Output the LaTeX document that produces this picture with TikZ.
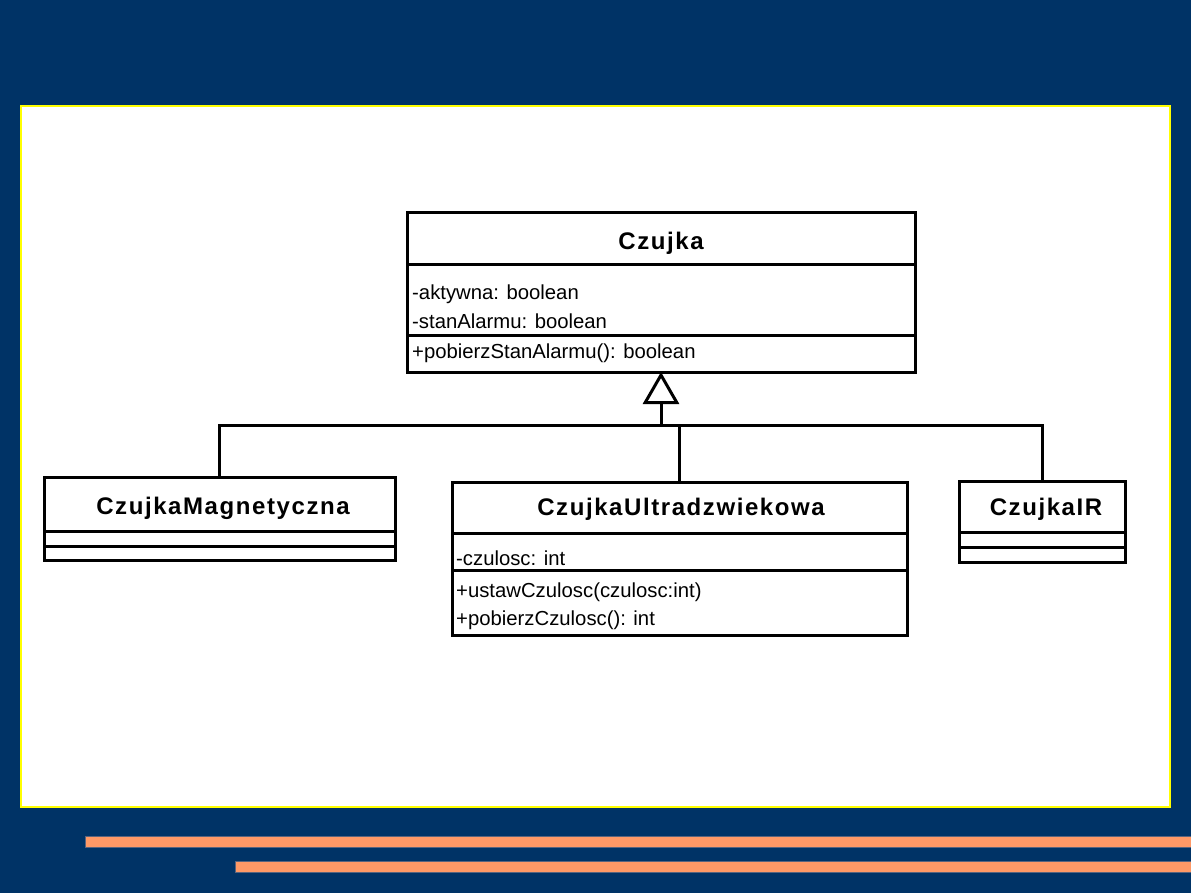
\documentclass[tikz,border=0pt]{standalone}
\usepackage{fontspec}
\setmainfont{Liberation Sans}
\newfontfamily\namefont[LetterSpace=6.6]{Liberation Sans}
\usetikzlibrary{arrows.meta}
\definecolor{navy}{RGB}{0,51,102}
\definecolor{stripe}{RGB}{255,153,102}
\definecolor{stripeedge}{RGB}{90,100,125}
\definecolor{panelyellow}{RGB}{255,255,0}
\tikzset{
  classbox/.style={draw=black, line width=3pt, fill=white, rectangle, inner sep=0pt, outer sep=0pt},
  divider/.style={draw=black, line width=3pt},
  conn/.style={draw=black, line width=3pt},
  cname/.style={anchor=base, inner sep=0pt, font=\namefont\bfseries\fontsize{24pt}{28pt}\selectfont},
  member/.style={anchor=base west, inner sep=0pt, font=\fontsize{20.3pt}{24pt}\selectfont},
  stripebar/.style={fill=stripe, draw=stripeedge, line width=0.8pt}
}
\begin{document}
\begin{tikzpicture}[x=1pt, y=-1pt]
\useasboundingbox (0,0) rectangle (1191,893);
% background
\fill[navy] (0,0) rectangle (1191,893);
\fill[white, draw=panelyellow, line width=1.6pt] (21,106) rectangle (1170,807);
\draw[stripebar] (85,836) rectangle (1195,847);
\draw[stripebar] (235,861) rectangle (1195,872);

% classes
\node[classbox, minimum width=508pt, minimum height=159pt] (czujka) at (661,292.5) {};
\draw[divider] (czujka.west |- 0,265) -- (czujka.east |- 0,265);
\draw[divider] (czujka.west |- 0,335) -- (czujka.east |- 0,335);
\node[cname] (czujkaN) at (661,250) {Czujka};
\node[member] (czA1) at (412,300) {-aktywna: boolean};
\node[member] (czA2) at (412,328) {-stanAlarmu: boolean};
\node[member] (czM1) at (412,358) {+pobierzStanAlarmu(): boolean};

\node[classbox, minimum width=351pt, minimum height=83pt] (magn) at (219.5,518.5) {};
\draw[divider] (magn.west |- 0,531) -- (magn.east |- 0,531);
\draw[divider] (magn.west |- 0,546) -- (magn.east |- 0,546);
\node[cname] (magnN) at (223,514) {CzujkaMagnetyczna};

\node[classbox, minimum width=455pt, minimum height=153pt] (ultra) at (679.5,558.5) {};
\draw[divider] (ultra.west |- 0,533) -- (ultra.east |- 0,533);
\draw[divider] (ultra.west |- 0,570) -- (ultra.east |- 0,570);
\node[cname] (ultraN) at (681,515) {CzujkaUltradzwiekowa};
\node[member] (ulA1) at (456,565) {-czulosc: int};
\node[member] (ulM1) at (456,597) {+ustawCzulosc(czulosc:int)};
\node[member] (ulM2) at (456,625) {+pobierzCzulosc(): int};

\node[classbox, minimum width=166pt, minimum height=81pt] (ir) at (1042,521.5) {};
\draw[divider] (ir.west |- 0,532) -- (ir.east |- 0,532);
\draw[divider] (ir.west |- 0,547) -- (ir.east |- 0,547);
\node[cname] (irN) at (1046,515) {CzujkaIR};

% connectors
\coordinate (hub) at (661,425);
\draw[conn] (magn.north) |- (hub) -| (ir.north);
\draw[conn] (ultra.north) -- (ultra.north |- hub);
\draw[conn, -{Triangle[open, length=32pt, width=36pt, line width=3pt]}] (hub) -- (czujka.south);
\end{tikzpicture}
\end{document}
